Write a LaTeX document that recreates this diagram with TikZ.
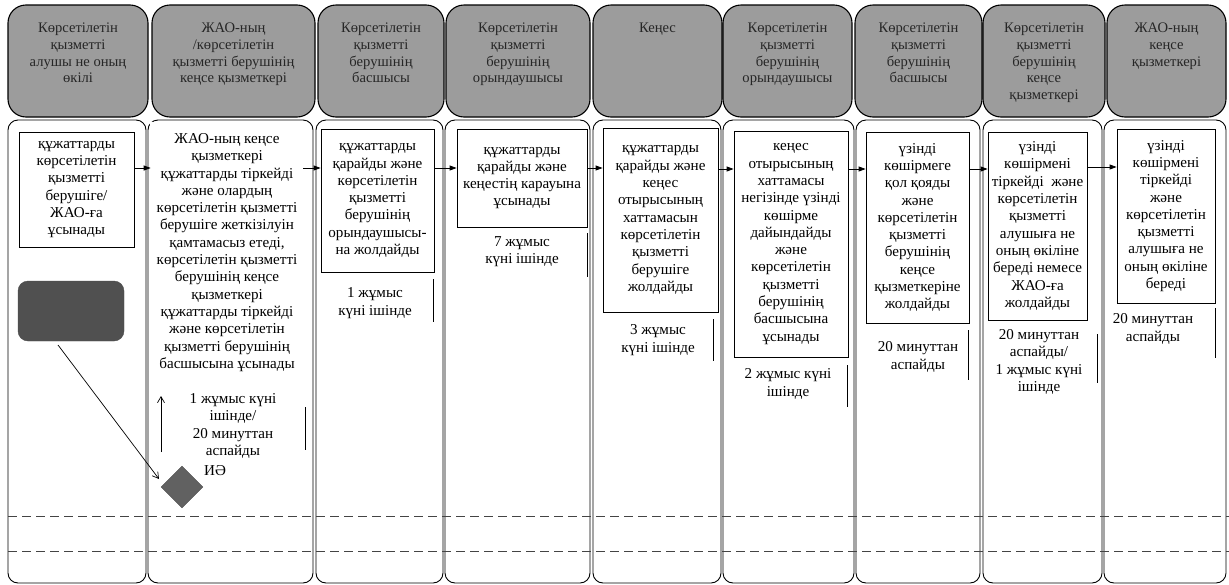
\documentclass[tikz,border=0pt]{standalone}
\usepackage{fontspec}
\setmainfont{Liberation Serif}
\usetikzlibrary{arrows.meta,shapes.geometric}
\definecolor{hdrgray}{HTML}{9C9C9C}
\definecolor{darkfill}{HTML}{505050}
\definecolor{dashgray}{HTML}{444444}
\begin{document}
\begin{tikzpicture}[x=1pt,y=-1pt,
 hdrbox/.style={draw=black, line width=1.1pt, fill=hdrgray, rounded corners=18pt},
 colbox/.style={draw=black, line width=0.9pt, rounded corners=10pt},
 htext/.style={align=center, inner sep=0pt, anchor=north, font=\fontsize{14.6}{16.6}\selectfont, text=black!85},
 pbox/.style={draw=black, line width=0.8pt, align=center, inner sep=1pt, font=\fontsize{15.1}{17.3}\selectfont},
 ttext/.style={align=center, inner sep=0pt, font=\fontsize{15.1}{17.3}\selectfont},
 bar/.style={line width=0.9pt},
 harr/.style={-{Triangle[length=7pt,width=5pt]}, line width=0.8pt},
 larr/.style={-{Straight Barb[length=6pt,width=7pt]}, line width=0.7pt},
 lane/.style={dashgray, line width=0.9pt, dash pattern=on 9pt off 5pt}
]
\fill[white] (0,0) rectangle (1229,584);
\useasboundingbox (0,0) rectangle (1229,584);

% headers
\draw[hdrbox] (8,5) rectangle (148,117);
\draw[hdrbox] (152,5) rectangle (315,117);
\draw[hdrbox] (318,5) rectangle (444,117);
\draw[hdrbox] (446,5) rectangle (590,117);
\draw[hdrbox] (593,5) rectangle (722,117);
\draw[hdrbox] (723,5) rectangle (852,117);
\draw[hdrbox] (855,5) rectangle (982,117);
\draw[hdrbox] (983,5) rectangle (1105,117);
\draw[hdrbox] (1107,5) rectangle (1226,117);

\node[htext] (h1) at (78,23) {Көрсетілетін\\қызметті\\алушы не оның\\өкілі};
\node[htext] (h2) at (233.5,23) {ЖАО-ның\\/көрсетілетін\\қызметті берушінің\\кеңсе қызметкері};
\node[htext] (h3) at (381,23) {Көрсетілетін\\қызметті\\берушінің\\басшысы};
\node[htext] (h4) at (518,23) {Көрсетілетін\\қызметті\\берушінің\\орындаушысы};
\node[htext] (h5) at (657.5,23) {Кеңес};
\node[htext] (h6) at (787.5,23) {Көрсетілетін\\қызметті\\берушінің\\орындаушысы};
\node[htext] (h7) at (918.5,23) {Көрсетілетін\\қызметті\\берушінің\\басшысы};
\node[htext] (h8) at (1044,23) {Көрсетілетін\\қызметті\\берушінің\\кеңсе\\қызметкері};
\node[htext] (h9) at (1166.5,23) {ЖАО-ның\\кеңсе\\қызметкері};

% lanes
\draw[colbox] (8,120) rectangle (146,583);
\draw[colbox] (148,120) rectangle (313,583);
\draw[colbox] (316,120) rectangle (443,583);
\draw[colbox] (445,120) rectangle (590,583);
\draw[colbox] (593,120) rectangle (721,583);
\draw[colbox] (723,120) rectangle (854,583);
\draw[colbox] (856,120) rectangle (980,583);
\draw[colbox] (983,120) rectangle (1102,583);
\draw[colbox] (1104,120) rectangle (1226,583);

\draw[lane] (8,516) -- (1229,516);
\draw[lane] (8,551) -- (1229,551);

% process boxes
\node[pbox, minimum width=115pt, minimum height=115pt] (b1) at (76.5,189.5)
 {құжаттарды\\көрсетілетін\\қызметті\\берушіге/\\ЖАО-ға\\ұсынады};
\node[pbox, double, double distance=1.4pt, line width=0.6pt, minimum width=152pt, minimum height=259pt] (b2) at (227,252.5)
 {ЖАО-ның кеңсе\\қызметкері\\құжаттарды тіркейді\\және олардың\\көрсетілетін қызметті\\берушіге жеткізілуін\\қамтамасыз етеді,\\көрсетілетін қызметті\\берушінің кеңсе\\қызметкері\\құжаттарды тіркейді\\және көрсетілетін\\қызметті берушінің\\басшысына ұсынады};
\node[pbox, minimum width=113pt, minimum height=143pt] (b3) at (377.5,200.5)
 {құжаттарды\\қарайды және\\көрсетілетін\\қызметті\\берушінің\\орындаушысы-\\на жолдайды};
\node[pbox, minimum width=130pt, minimum height=98pt] (b4) at (522,178)
 {құжаттарды\\қарайды және\\кеңестің карауына\\ұсынады};
\node[pbox, minimum width=115pt, minimum height=184pt] (b5) at (660.5,220)
 {құжаттарды\\қарайды және\\кеңес\\отырысының\\хаттамасын\\көрсетілетін\\қызметті\\берушіге\\жолдайды};
\node[pbox, minimum width=114pt, minimum height=226pt] (b6) at (791,244)
 {кеңес\\отырысының\\хаттамасы\\негізінде үзінді\\көшірме\\дайындайды\\және\\көрсетілетін\\қызметті\\берушінің\\басшысына\\ұсынады};
\node[pbox, minimum width=103pt, minimum height=191pt] (b7) at (917.5,227.5)
 {үзінді\\көшірмеге\\қол қояды\\және\\көрсетілетін\\қызметті\\берушінің\\кеңсе\\қызметкеріне\\жолдайды};
\node[pbox, minimum width=99pt, minimum height=188pt] (b8) at (1037.5,226)
 {үзінді\\көшірмені\\тіркейді\ \ және\\көрсетілетін\\қызметті\\алушыға не\\оның өкіліне\\береді немесе\\ЖАО-ға\\жолдайды};
\node[pbox, minimum width=98pt, minimum height=174pt] (b9) at (1166,216)
 {үзінді\\көшірмені\\тіркейді\\және\\көрсетілетін\\қызметті\\алушыға не\\оның өкіліне\\береді};

% flow arrows
\draw[harr] (b1.east |- 0,168) -- (b2.west |- 0,168);
\draw[harr] (b2.east |- 0,168) -- (b3.west |- 0,168);
\draw[harr] (b3.east |- 0,168) -- (b4.west |- 0,168);
\draw[harr] (b4.east |- 0,168) -- (b5.west |- 0,168);
\draw[harr] (b5.east |- 0,169) -- (b6.west |- 0,169);
\draw[harr] (b6.east |- 0,169) -- (b7.west |- 0,169);
\draw[harr] (b7.east |- 0,169) -- (b8.west |- 0,169);
\draw[harr] (b8.east |- 0,167) -- (b9.west |- 0,167);

% timings
\node[ttext] (t2) at (233,426) {1 жұмыс күні\\ішінде/\\20 минуттан\\аспайды};
\node[ttext] (t3) at (375,303) {1 жұмыс\\күні ішінде};
\node[ttext] (t4) at (522,252) {7 жұмыс\\күні ішінде};
\node[ttext] (t5) at (658,340) {3 жұмыс\\күні ішінде};
\node[ttext] (t6) at (788,384) {2 жұмыс күні\\ішінде};
\node[ttext] (t7) at (918,357) {20 минуттан\\аспайды};
\node[ttext] (t8) at (1039,362) {20 минуттан\\аспайды/\\1 жұмыс күні\\ішінде};
\node[ttext] (t9) at (1153,329) {20 минуттан\\аспайды};

\draw[bar] (305,407) -- (305,450);
\draw[bar] (433,279) -- (433,322);
\draw[bar] (587,233) -- (587,277);
\draw[bar] (713,319) -- (713,361);
\draw[bar] (847,365) -- (847,407);
\draw[bar] (968,330) -- (968,380);
\draw[bar] (1097,334) -- (1097,383);
\draw[bar] (1215,308) -- (1215,358);

% start / decision
\node[draw=black!70, fill=darkfill, rounded corners=10pt, minimum width=106pt, minimum height=60pt, inner sep=0pt] (d) at (71,311) {};
\node[diamond, draw=black!70, fill=darkfill!90, minimum width=42pt, minimum height=42pt, inner sep=0pt] (dia) at (182,487) {};
\node[ttext, anchor=west] (ie) at (204,471) {ИӘ};
\coordinate (dstart) at (58,345);
\coordinate (dend) at (159,479);
\draw[larr] (dstart) -- (dend);
\coordinate (ustart) at (161,452);
\coordinate (uend) at (161,396);
\draw[larr] (ustart) -- (uend);
\end{tikzpicture}
\end{document}
